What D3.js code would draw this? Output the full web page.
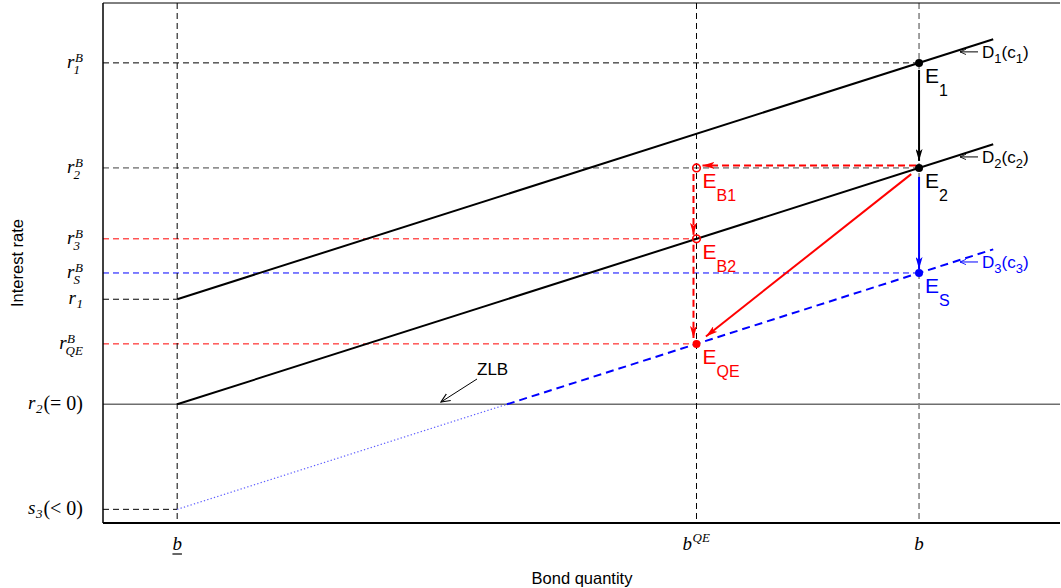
<!DOCTYPE html>
<html><head><meta charset="utf-8">
<script src="https://cdn.jsdelivr.net/npm/d3@7"></script>
<style>
body{margin:0;background:#fff}
.sans{font-family:"Liberation Sans",Arial,sans-serif}
.math{font-family:"Liberation Serif","DejaVu Serif",serif;font-style:italic}
</style></head><body>
<svg id="chart" width="1061" height="588"></svg>
<script>
// Bond quantities (x) and interest-rate levels (y), in model units
const xTickValues = [0, 7, 10];
const xTickNames = ["bLow", "bQE", "b"];
const yTickValues = [3.25, 2.25, 1.575, 1.25, 1, 0.575, 0, -1];
const yTickNames = ["r1B", "r2B", "r3B", "rSB", "r1", "rQEB", "r2", "s3"];
// where each horizontal guide ends (bond quantity); null = whole width
const yGuideEnds = [10, 10, 7, 10, 0, 7, null, 0];

// demand curves: end points [bond quantity, interest rate]
const curveD1 = [[0, 1], [11, 3.475]];
const curveD2 = [[0, 0], [11, 2.475]];
const curveD3 = [[0, -1], [11, 1.475]];

// equilibria
const eqNames = ["E1", "E2", "ES", "EB1", "EB2", "EQE"];
const eqX = [10, 10, 10, 7, 7, 7];
const eqY = [3.25, 2.25, 1.25, 2.25, 1.575, 0.575];

const plot = {left: 103, right: 1060, top: 3, bottom: 523};
const x = d3.scaleLinear().domain([-1, 11.9]).range([plot.left, plot.right]);
const y = d3.scaleLinear().domain([-1.13, 3.82]).range([plot.bottom, plot.top]);

const BLACK = "#000", RED = "#ff0000", BLUE = "#0000ff", GRAY = "#808080";
const svg = d3.select("#chart");
const defs = svg.append("defs");

function arrowMarker(id, color, len, wid) {
  defs.append("marker").attr("id", id)
    .attr("markerUnits", "userSpaceOnUse")
    .attr("viewBox", `0 ${-wid/2} ${len} ${wid}`)
    .attr("refX", len).attr("refY", 0)
    .attr("markerWidth", len).attr("markerHeight", wid)
    .attr("orient", "auto")
    .append("path")
    .attr("d", `M0,${-wid/2}L${len},0L0,${wid/2}L${len*0.25},0Z`)
    .attr("fill", color);
}
arrowMarker("ahBlack", BLACK, 12, 7);
arrowMarker("ahRed", RED, 12, 7);
arrowMarker("ahBlue", BLUE, 12, 7);
function thinMarker(id, color, size) {
  defs.append("marker").attr("id", id)
    .attr("markerUnits", "userSpaceOnUse")
    .attr("viewBox", "0 -5 10 10").attr("refX", 9).attr("refY", 0)
    .attr("markerWidth", size).attr("markerHeight", size).attr("orient", "auto")
    .append("path").attr("d", "M0,-4L9,0L0,4").attr("fill", "none")
    .attr("stroke", color).attr("stroke-width", 1.2);
}
thinMarker("ahThin", BLACK, 10);
thinMarker("ahSmallBlack", BLACK, 7);
thinMarker("ahSmallBlue", BLUE, 7);

const guideColor = {r1B: BLACK, r2B: BLACK, r3B: RED, rSB: BLUE, r1: BLACK, rQEB: RED, r2: BLACK, s3: BLACK};

// horizontal guides
yTickValues.forEach((v, i) => {
  const name = yTickNames[i];
  if (yGuideEnds[i] === null) {
    svg.append("line")
      .attr("x1", plot.left).attr("x2", plot.right)
      .attr("y1", y(v)).attr("y2", y(v))
      .attr("stroke", "#6e6e6e").attr("stroke-width", 1.6);
  } else {
    svg.append("line")
      .attr("x1", plot.left).attr("x2", x(yGuideEnds[i]))
      .attr("y1", y(v)).attr("y2", y(v))
      .attr("stroke", guideColor[name]).attr("stroke-width", 1)
      .attr("stroke-dasharray", "6,4")
      .attr("opacity", name === "r2B" ? 0.75 : 1);
  }
});

// vertical guides
const vColor = {bLow: BLACK, bQE: BLACK, b: GRAY};
xTickValues.forEach((v, i) => {
  svg.append("line")
    .attr("x1", x(v)).attr("x2", x(v))
    .attr("y1", plot.top).attr("y2", plot.bottom)
    .attr("stroke", vColor[xTickNames[i]])
    .attr("stroke-width", xTickNames[i] === "b" ? 1.5 : 1)
    .attr("stroke-dasharray", "6,4");
});

// demand curves
const line = d3.line().x(d => x(d[0])).y(d => y(d[1]));
svg.append("path").datum(curveD1).attr("d", line)
  .attr("fill", "none").attr("stroke", BLACK).attr("stroke-width", 2);
svg.append("path").datum(curveD2).attr("d", line)
  .attr("fill", "none").attr("stroke", BLACK).attr("stroke-width", 2);

// D3 below the zero lower bound is dotted, above it dashed
const d3Slope = (curveD3[1][1] - curveD3[0][1]) / (curveD3[1][0] - curveD3[0][0]);
const zlbX = curveD3[0][0] - curveD3[0][1] / d3Slope;
svg.append("path").datum([curveD3[0], [zlbX, 0]]).attr("d", line)
  .attr("fill", "none").attr("stroke", "#5a5aff").attr("stroke-width", 1.2)
  .attr("stroke-dasharray", "1.3,2.2");
svg.append("path").datum([[zlbX, 0], curveD3[1]]).attr("d", line)
  .attr("fill", "none").attr("stroke", BLUE).attr("stroke-width", 2)
  .attr("stroke-dasharray", "8,5");

// arrows between equilibria
function arrow(i, j, color, marker, opts) {
  const o = Object.assign({s: 6, e: 6, dx: 0, dy: 0, dash: null, w: 2}, opts || {});
  const x1 = x(eqX[i]) + o.dx, y1 = y(eqY[i]) + o.dy;
  const x2 = x(eqX[j]) + o.dx, y2 = y(eqY[j]) + o.dy;
  const L = Math.hypot(x2 - x1, y2 - y1), ux = (x2 - x1) / L, uy = (y2 - y1) / L;
  const p = svg.append("line")
    .attr("x1", x1 + ux * o.s).attr("y1", y1 + uy * o.s)
    .attr("x2", x2 - ux * o.e).attr("y2", y2 - uy * o.e)
    .attr("stroke", color).attr("stroke-width", o.w)
    .attr("marker-end", `url(#${marker})`);
  if (o.dash) p.attr("stroke-dasharray", o.dash);
}
arrow(0, 1, BLACK, "ahBlack", {s: 7, e: 7});
arrow(1, 3, RED, "ahRed", {s: 3, e: 6, dy: -2.5, dash: "7,4"});
arrow(3, 4, RED, "ahRed", {s: 6, e: 4, dx: -3, dash: "7,4"});
arrow(4, 5, RED, "ahRed", {s: 6, e: 6, dx: -3, dash: "7,4"});
arrow(1, 5, RED, "ahRed", {s: 10, e: 12});
arrow(1, 2, BLUE, "ahBlue", {s: 9, e: 4});

// equilibrium points
const eqStyle = {
  E1: {c: BLACK, fill: true}, E2: {c: BLACK, fill: true}, ES: {c: BLUE, fill: true},
  EB1: {c: RED, fill: false}, EB2: {c: RED, fill: false}, EQE: {c: RED, fill: true}
};
eqNames.forEach((n, i) => {
  const st = eqStyle[n];
  svg.append("circle").attr("cx", x(eqX[i])).attr("cy", y(eqY[i]))
    .attr("r", st.fill ? 4 : 3.8)
    .attr("fill", st.fill ? st.c : "none")
    .attr("stroke", st.c).attr("stroke-width", st.fill ? 0 : 1.6);
});

// equilibrium labels
const eqSub = {E1: "1", E2: "2", ES: "S", EB1: "B1", EB2: "B2", EQE: "QE"};
eqNames.forEach((n, i) => {
  const t = svg.append("text").attr("class", "sans")
    .attr("x", x(eqX[i]) + 6).attr("y", y(eqY[i]) + 20)
    .attr("fill", eqStyle[n].c).attr("font-size", 21);
  t.append("tspan").text("E");
  t.append("tspan").attr("dy", 13).attr("font-size", 16).text(eqSub[n]);
});

// curve labels with a small pointer arrow
const curveLabelData = [
  {curve: curveD1, d: "1", c: "1", col: BLACK, m: "ahSmallBlack"},
  {curve: curveD2, d: "2", c: "2", col: BLACK, m: "ahSmallBlack"},
  {curve: curveD3, d: "3", c: "3", col: BLUE, m: "ahSmallBlue"}
];
curveLabelData.forEach(cl => {
  const yy = y(cl.curve[0][1] + d3Slope * 10) - 5;
  svg.append("line").attr("x1", 978).attr("x2", 960)
    .attr("y1", yy - 6).attr("y2", yy - 6)
    .attr("stroke", cl.col).attr("stroke-width", 1)
    .attr("marker-end", `url(#${cl.m})`);
  const t = svg.append("text").attr("class", "sans")
    .attr("x", 982).attr("y", yy).attr("fill", cl.col).attr("font-size", 17);
  t.append("tspan").text("D");
  t.append("tspan").attr("dy", 5).attr("font-size", 13).text(cl.d);
  t.append("tspan").attr("dy", -5).text("(c");
  t.append("tspan").attr("dy", 5).attr("font-size", 13).text(cl.c);
  t.append("tspan").attr("dy", -5).text(")");
});

// ZLB annotation
svg.append("text").attr("class", "sans").attr("x", 477).attr("y", 375)
  .attr("font-size", 17).text("ZLB");
svg.append("line").attr("x1", 477).attr("y1", 379).attr("x2", 441).attr("y2", 402)
  .attr("stroke", BLACK).attr("stroke-width", 1).attr("marker-end", "url(#ahThin)");

// plot frame
svg.append("line").attr("x1", plot.left).attr("x2", plot.right)
  .attr("y1", plot.top).attr("y2", plot.top).attr("stroke", BLACK).attr("stroke-width", 1);
svg.append("line").attr("x1", plot.left).attr("x2", plot.right)
  .attr("y1", plot.bottom).attr("y2", plot.bottom).attr("stroke", BLACK).attr("stroke-width", 2);
svg.append("line").attr("x1", plot.left).attr("x2", plot.left)
  .attr("y1", plot.top).attr("y2", plot.bottom).attr("stroke", BLACK).attr("stroke-width", 1.5);

// width of a string in a given font, for stacking scripts
function textWidth(str, size, cls) {
  const t = svg.append("text").attr("class", cls).attr("font-size", size).text(str);
  const w = t.node().getComputedTextLength();
  t.remove();
  return w;
}

// y tick labels (math style, sup and sub stacked in one text element)
const yLabelParts = {
  r1B: {b: "r", sup: "B", sub: "1"}, r2B: {b: "r", sup: "B", sub: "2"},
  r3B: {b: "r", sup: "B", sub: "3"}, rSB: {b: "r", sup: "B", sub: "S"},
  r1: {b: "r", sub: "1"}, rQEB: {b: "r", sup: "B", sub: "QE"},
  r2: {b: "r", sub: "2", tail: "(= 0)"}, s3: {b: "s", sub: "3", tail: "(< 0)"}
};
yTickValues.forEach((v, i) => {
  const p = yLabelParts[yTickNames[i]];
  const t = svg.append("text").attr("class", "math").attr("font-size", 19)
    .attr("x", 0).attr("y", 0);
  t.append("tspan").text(p.b);
  let shift = 0;
  if (p.sup) {
    t.append("tspan").attr("font-size", 13).attr("dx", 0.5).attr("dy", -6).text(p.sup);
    const ws = textWidth(p.sup, 13, "math");
    t.append("tspan").attr("font-size", 13).attr("dx", -ws - 1.5).attr("dy", 12).text(p.sub);
    shift = -6;
  } else if (p.sub) {
    t.append("tspan").attr("font-size", 13).attr("dx", 0.5).attr("dy", 4).text(p.sub);
    shift = 4;
  }
  if (p.tail) {
    t.append("tspan").attr("font-style", "normal").attr("font-size", 20)
      .attr("dx", 1).attr("dy", -shift + 1).text(p.tail);
  }
  const bb = t.node().getBBox();
  t.attr("transform", `translate(${83 - (bb.x + bb.width)},${y(v) + 5})`);
});

// x tick labels
xTickValues.forEach((v, i) => {
  const n = xTickNames[i];
  const t = svg.append("text").attr("class", "math").attr("font-size", 19)
    .attr("x", 0).attr("y", 0);
  t.append("tspan").text("b");
  const wb = textWidth("b", 19, "math");
  if (n === "bQE") {
    t.append("tspan").attr("font-size", 13).attr("dx", 0.5).attr("dy", -8).text("QE");
  }
  const g = svg.append("g");
  if (n === "bLow") {
    g.append("line").attr("x1", 0).attr("x2", wb).attr("y1", 4).attr("y2", 4)
      .attr("stroke", BLACK).attr("stroke-width", 1.2);
  }
  const tx = x(v) - (n === "bQE" ? 14 : wb / 2);
  t.attr("transform", `translate(${tx},550)`);
  g.attr("transform", `translate(${tx},550)`);
});

// axis titles
svg.append("text").attr("class", "sans").attr("font-size", 16.5)
  .attr("text-anchor", "middle").attr("x", 582).attr("y", 584).text("Bond quantity");
svg.append("text").attr("class", "sans").attr("font-size", 16.5)
  .attr("text-anchor", "middle")
  .attr("transform", `translate(23,${(plot.top + plot.bottom) / 2}) rotate(-90)`)
  .text("Interest rate");
</script>
</body></html>
